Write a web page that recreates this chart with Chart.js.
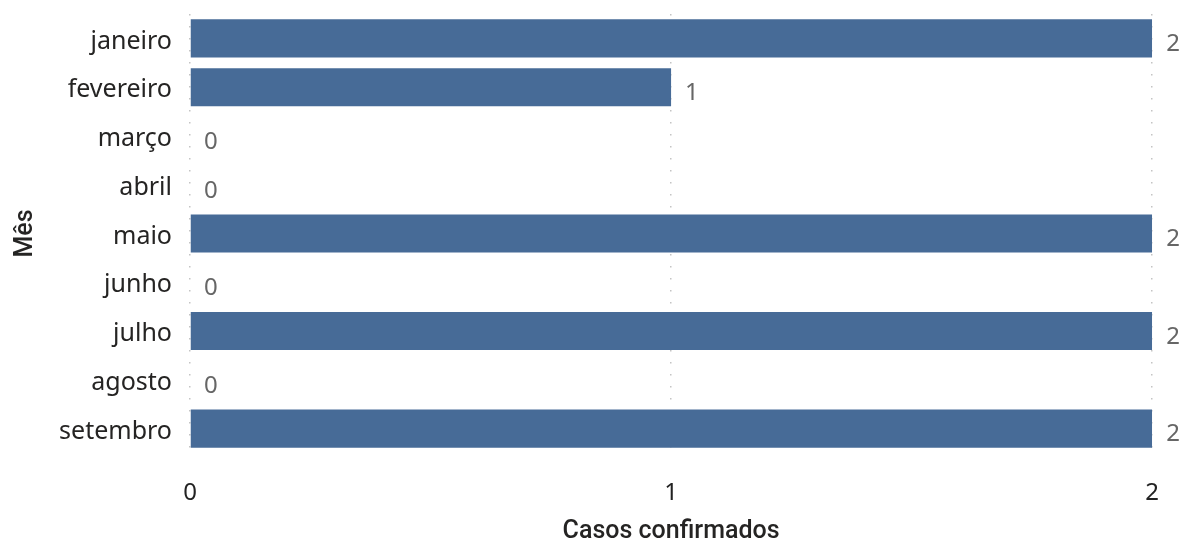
<!DOCTYPE html>
<html>
<head>
<meta charset="utf-8">
<script src="https://cdn.jsdelivr.net/npm/chart.js@4.4.1/dist/chart.umd.min.js"></script>
<style>
  html, body { margin: 0; padding: 0; background: #fff; }
  #wrap { width: 1185px; height: 543px; }
</style>
</head>
<body>
<div id="wrap"><canvas id="chart"></canvas></div>
<script>
const months = ["janeiro", "fevereiro", "março", "abril", "maio", "junho", "julho", "agosto", "setembro"];
const cases = [2, 1, 0, 0, 2, 0, 2, 0, 2];
const xTicks = [0, 1, 2];

// draws the value next to the end of each bar
const valueLabels = {
  id: "valueLabels",
  afterDatasetsDraw(chart) {
    const ctx = chart.ctx;
    const meta = chart.getDatasetMeta(0);
    ctx.save();
    ctx.font = "24px 'Noto Sans'";
    ctx.fillStyle = "#666666";
    ctx.textAlign = "left";
    ctx.textBaseline = "middle";
    meta.data.forEach((bar, i) => {
      ctx.fillText(String(cases[i]), bar.x + 14, bar.y + 6);
    });
    ctx.restore();
  },
};

new Chart(document.getElementById("chart"), {
  type: "bar",
  data: {
    labels: months,
    datasets: [
      {
        data: cases,
        backgroundColor: "#476b97",
        categoryPercentage: 0.78,
        barPercentage: 1,
      },
    ],
  },
  options: {
    indexAxis: "y",
    responsive: true,
    maintainAspectRatio: false,
    animation: false,
    layout: { padding: { top: 14, right: 32, left: 0, bottom: 0 } },
    plugins: { legend: { display: false }, tooltip: { enabled: false } },
    scales: {
      x: {
        min: 0,
        max: 2,
        afterFit: (s) => { s.height = 90; },
        afterBuildTicks: (s) => { s.ticks = xTicks.map((v) => ({ value: v })); },
        border: { display: false, dash: [1.5, 10.5] },
        grid: { color: "#c4c4c4", lineWidth: 1.5, drawTicks: false },
        ticks: { color: "#222", font: { family: "Noto Sans", size: 24 }, padding: 26 },
        title: {
          display: true,
          text: "Casos confirmados",
          color: "#252423",
          font: { family: "Roboto", size: 25, weight: "500", lineHeight: 0.9 },
          padding: { top: 0, bottom: 0 },
        },
      },
      y: {
        afterFit: (s) => { s.width = 190; s.paddingTop = 0; s.paddingBottom = 0; },
        border: { display: false },
        grid: { display: false, drawTicks: false },
        ticks: { color: "#252423", font: { family: "Noto Sans", size: 25 }, padding: 18, labelOffset: 3 },
        title: {
          display: true,
          text: "Mês",
          color: "#252423",
          font: { family: "Roboto", size: 25, weight: "500" },
          padding: { top: 11, bottom: 0 },
        },
      },
    },
  },
  plugins: [valueLabels],
});
</script>
</body>
</html>
